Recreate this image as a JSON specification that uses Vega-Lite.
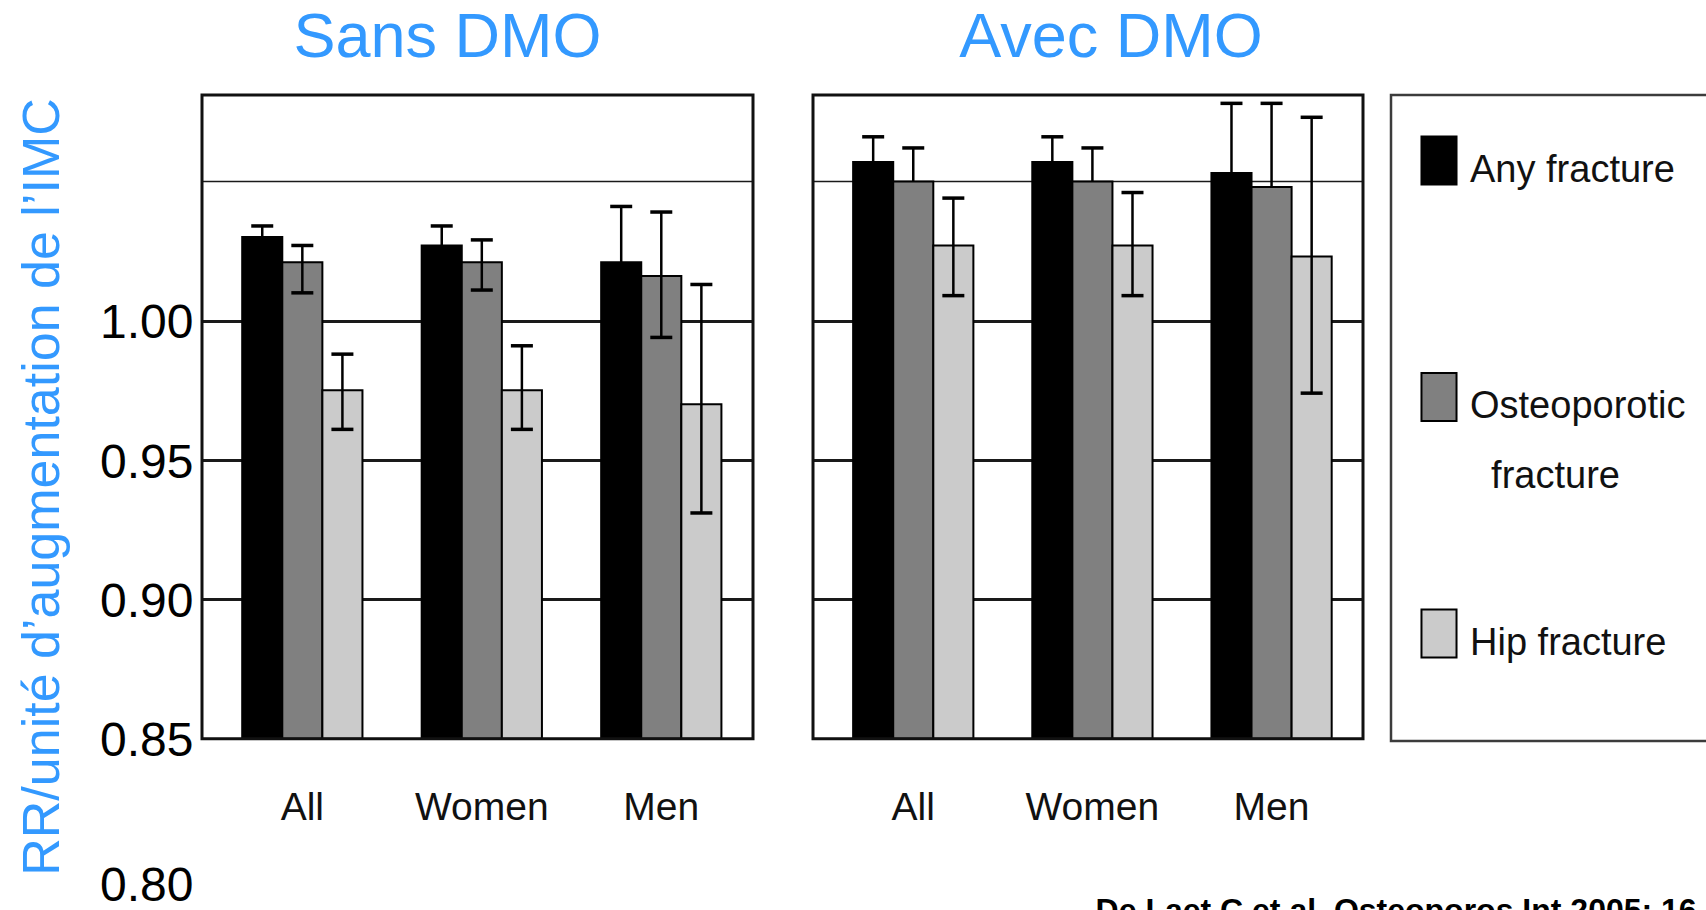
{
  "$schema": "https://vega.github.io/schema/vega-lite/v6.json",
  "background": "white",
  "padding": {"left": 16, "top": 6, "right": 0, "bottom": 0},
  "datasets": {
    "rr": [
      {"panel": "Sans DMO", "group": "All", "series": "Any fracture", "rr": 1.030, "lo": 1.026, "hi": 1.034},
      {"panel": "Sans DMO", "group": "All", "series": "Osteoporotic fracture", "rr": 1.021, "lo": 1.010, "hi": 1.027},
      {"panel": "Sans DMO", "group": "All", "series": "Hip fracture", "rr": 0.975, "lo": 0.961, "hi": 0.988},
      {"panel": "Sans DMO", "group": "Women", "series": "Any fracture", "rr": 1.027, "lo": 1.020, "hi": 1.034},
      {"panel": "Sans DMO", "group": "Women", "series": "Osteoporotic fracture", "rr": 1.021, "lo": 1.011, "hi": 1.029},
      {"panel": "Sans DMO", "group": "Women", "series": "Hip fracture", "rr": 0.975, "lo": 0.961, "hi": 0.991},
      {"panel": "Sans DMO", "group": "Men", "series": "Any fracture", "rr": 1.021, "lo": 1.001, "hi": 1.041},
      {"panel": "Sans DMO", "group": "Men", "series": "Osteoporotic fracture", "rr": 1.016, "lo": 0.994, "hi": 1.039},
      {"panel": "Sans DMO", "group": "Men", "series": "Hip fracture", "rr": 0.970, "lo": 0.931, "hi": 1.013},
      {"panel": "Avec DMO", "group": "All", "series": "Any fracture", "rr": 1.057, "lo": 1.048, "hi": 1.066},
      {"panel": "Avec DMO", "group": "All", "series": "Osteoporotic fracture", "rr": 1.050, "lo": 1.050, "hi": 1.062},
      {"panel": "Avec DMO", "group": "All", "series": "Hip fracture", "rr": 1.027, "lo": 1.009, "hi": 1.044},
      {"panel": "Avec DMO", "group": "Women", "series": "Any fracture", "rr": 1.057, "lo": 1.048, "hi": 1.066},
      {"panel": "Avec DMO", "group": "Women", "series": "Osteoporotic fracture", "rr": 1.050, "lo": 1.050, "hi": 1.062},
      {"panel": "Avec DMO", "group": "Women", "series": "Hip fracture", "rr": 1.027, "lo": 1.009, "hi": 1.046},
      {"panel": "Avec DMO", "group": "Men", "series": "Any fracture", "rr": 1.053, "lo": 1.028, "hi": 1.078},
      {"panel": "Avec DMO", "group": "Men", "series": "Osteoporotic fracture", "rr": 1.048, "lo": 1.048, "hi": 1.078},
      {"panel": "Avec DMO", "group": "Men", "series": "Hip fracture", "rr": 1.023, "lo": 0.974, "hi": 1.073}
    ],
    "legend": [
      {"series": "Any fracture", "label": "Any fracture"},
      {"series": "Osteoporotic fracture", "label": "Osteoporotic\n\u200b\u00a0\u00a0fracture"},
      {"series": "Hip fracture", "label": "Hip fracture"}
    ]
  },
  "title": {
    "text": "De Laet C et al. Osteoporos Int 2005; 16",
    "orient": "bottom",
    "anchor": "start",
    "font": "Liberation Sans",
    "fontSize": 32,
    "fontWeight": "bold",
    "color": "#000000",
    "dx": 1079,
    "offset": -14
  },
  "spacing": 56,
  "hconcat": [
    {
      "width": 551,
      "height": 783,
      "title": {"text": "Sans DMO", "dx": -30, "offset": 24},
      "layer": [
        {
          "data": {"name": "rr"},
          "transform": [{"filter": "datum.panel === 'Sans DMO'"}],
          "encoding": {
            "x": {
              "field": "group", "type": "nominal",
              "scale": {"domain": ["All", "Women", "Men"], "paddingInner": 0.33, "paddingOuter": 0.2, "align": 0.56},
              "axis": {"title": null, "orient": "bottom", "offset": -139, "domain": false, "ticks": false, "labelAngle": 0, "labelPadding": 49, "labelFont": "Liberation Sans", "labelFontSize": 39, "labelColor": "#111111"}
            },
            "xOffset": {
              "field": "series", "type": "nominal",
              "scale": {"domain": ["Any fracture", "Osteoporotic fracture", "Hip fracture"], "paddingInner": 0, "paddingOuter": 0}
            }
          },
          "layer": [
            {
              "mark": {"type": "bar", "stroke": "#000000", "strokeWidth": 2},
              "encoding": {
                "y": {
                  "field": "rr", "type": "quantitative",
                  "scale": {"domain": [0.8, 1.081], "nice": false, "zero": false},
                  "axis": {
                    "values": [0.8, 0.85, 0.9, 0.95, 1.0, 1.05],
                    "labelExpr": "datum.value > 1.04 ? '' : format(datum.value, '.2f')",
                    "labelFlush": false, "labelOverlap": false,
                    "labelOffset": {"condition": {"test": "datum.value < 0.81", "value": 8}, "value": 3},
                    "domain": false, "ticks": false,
                    "grid": true, "gridColor": "#1a1a1a",
                    "gridOpacity": {"condition": {"test": "datum.value < 0.875", "value": 0}, "value": 1},
                    "gridWidth": {"condition": {"test": "datum.value > 1.04", "value": 1.5}, "value": 3},
                    "labelFont": "Liberation Sans", "labelFontSize": 48, "labelColor": "#000000", "labelPadding": 9,
                    "title": "RR/unité d’augmentation de l’IMC",
                    "titleFont": "Liberation Sans", "titleFontSize": 52, "titleFontWeight": "normal", "titleColor": "#3399ff", "titlePadding": 30
                  }
                },
                "y2": {"datum": 0.85},
                "color": {
                  "field": "series", "type": "nominal",
                  "scale": {"domain": ["Any fracture", "Osteoporotic fracture", "Hip fracture"], "range": ["#000000", "#808080", "#cbcbcb"]},
                  "legend": null
                }
              }
            },
            {
              "mark": {"type": "rule", "color": "#000000", "strokeWidth": 2.5},
              "encoding": {
                "y": {"field": "lo", "type": "quantitative", "scale": {"domain": [0.8, 1.081], "nice": false, "zero": false}},
                "y2": {"field": "hi"}
              }
            },
            {
              "mark": {"type": "point", "shape": "M-1,0L1,0", "size": 484, "filled": false, "stroke": "#000000", "strokeWidth": 3.5, "opacity": 1},
              "encoding": {
                "y": {"field": "hi", "type": "quantitative", "scale": {"domain": [0.8, 1.081], "nice": false, "zero": false}}
              }
            },
            {
              "transform": [{"filter": "datum.lo < datum.rr"}],
              "mark": {"type": "point", "shape": "M-1,0L1,0", "size": 484, "filled": false, "stroke": "#000000", "strokeWidth": 3.5, "opacity": 1},
              "encoding": {
                "y": {"field": "lo", "type": "quantitative", "scale": {"domain": [0.8, 1.081], "nice": false, "zero": false}}
              }
            }
          ]
        },
        {
          "data": {"values": [{"edge": "frame"}]},
          "mark": {"type": "rect", "filled": false, "stroke": "#111111", "strokeWidth": 3},
          "encoding": {
            "y": {"datum": 0.85, "type": "quantitative", "scale": {"domain": [0.8, 1.081], "nice": false, "zero": false}},
            "y2": {"datum": 1.081}
          }
        }
      ]
    },
    {
      "hconcat": [
        {
          "width": 550,
          "height": 783,
          "title": {"text": "Avec DMO", "dx": 23, "offset": 24},
          "layer": [
            {
              "data": {"name": "rr"},
              "transform": [{"filter": "datum.panel === 'Avec DMO'"}],
              "encoding": {
                "x": {
                  "field": "group", "type": "nominal",
                  "scale": {"domain": ["All", "Women", "Men"], "paddingInner": 0.33, "paddingOuter": 0.2, "align": 0.56},
                  "axis": {"title": null, "orient": "bottom", "offset": -139, "domain": false, "ticks": false, "labelAngle": 0, "labelPadding": 49, "labelFont": "Liberation Sans", "labelFontSize": 39, "labelColor": "#111111"}
                },
                "xOffset": {
                  "field": "series", "type": "nominal",
                  "scale": {"domain": ["Any fracture", "Osteoporotic fracture", "Hip fracture"], "paddingInner": 0, "paddingOuter": 0}
                }
              },
              "layer": [
                {
                  "mark": {"type": "bar", "stroke": "#000000", "strokeWidth": 2},
                  "encoding": {
                    "y": {
                      "field": "rr", "type": "quantitative",
                      "scale": {"domain": [0.8, 1.081], "nice": false, "zero": false},
                      "axis": {
                        "values": [0.9, 0.95, 1.0, 1.05],
                        "labels": false, "domain": false, "ticks": false, "title": null,
                        "grid": true, "gridColor": "#1a1a1a",
                        "gridWidth": {"condition": {"test": "datum.value > 1.04", "value": 1.5}, "value": 3}
                      }
                    },
                    "y2": {"datum": 0.85},
                    "color": {
                      "field": "series", "type": "nominal",
                      "scale": {"domain": ["Any fracture", "Osteoporotic fracture", "Hip fracture"], "range": ["#000000", "#808080", "#cbcbcb"]},
                      "legend": null
                    }
                  }
                },
                {
                  "mark": {"type": "rule", "color": "#000000", "strokeWidth": 2.5},
                  "encoding": {
                    "y": {"field": "lo", "type": "quantitative", "scale": {"domain": [0.8, 1.081], "nice": false, "zero": false}},
                    "y2": {"field": "hi"}
                  }
                },
                {
                  "mark": {"type": "point", "shape": "M-1,0L1,0", "size": 484, "filled": false, "stroke": "#000000", "strokeWidth": 3.5, "opacity": 1},
                  "encoding": {
                    "y": {"field": "hi", "type": "quantitative", "scale": {"domain": [0.8, 1.081], "nice": false, "zero": false}}
                  }
                },
                {
                  "transform": [{"filter": "datum.lo < datum.rr"}],
                  "mark": {"type": "point", "shape": "M-1,0L1,0", "size": 484, "filled": false, "stroke": "#000000", "strokeWidth": 3.5, "opacity": 1},
                  "encoding": {
                    "y": {"field": "lo", "type": "quantitative", "scale": {"domain": [0.8, 1.081], "nice": false, "zero": false}}
                  }
                }
              ]
            },
            {
              "data": {"values": [{"edge": "frame"}]},
              "mark": {"type": "rect", "filled": false, "stroke": "#111111", "strokeWidth": 3},
              "encoding": {
                "y": {"datum": 0.85, "type": "quantitative", "scale": {"domain": [0.8, 1.081], "nice": false, "zero": false}},
                "y2": {"datum": 1.081}
              }
            }
          ]
        },
        {
          "width": 320,
          "height": 646,
          "view": {"stroke": "#3c3c3c", "strokeWidth": 2.5},
          "data": {"name": "legend"},
          "encoding": {
            "y": {
              "field": "series", "type": "nominal",
              "scale": {"type": "point", "domain": ["Any fracture", "Osteoporotic fracture", "Hip fracture"], "padding": 0.366, "align": 0.379},
              "axis": null
            }
          },
          "layer": [
            {
              "mark": {"type": "point", "shape": "M-0.73,-1H0.73V1H-0.73Z", "size": 2304, "filled": true, "opacity": 1, "stroke": "#000000", "strokeWidth": 2, "xOffset": -112},
              "encoding": {
                "color": {
                  "field": "series", "type": "nominal",
                  "scale": {"domain": ["Any fracture", "Osteoporotic fracture", "Hip fracture"], "range": ["#000000", "#808080", "#cbcbcb"]},
                  "legend": null
                }
              }
            },
            {
              "mark": {"type": "text", "align": "left", "baseline": "alphabetic", "dx": -81, "dy": 21, "lineBreak": "\n", "lineHeight": 70, "font": "Liberation Sans", "fontSize": 38, "color": "#111111"},
              "encoding": {"text": {"field": "label"}}
            }
          ]
        }
      ],
      "spacing": 28,
      "bounds": "flush"
    }
  ],
  "config": {
    "view": {"stroke": null},
    "font": "Liberation Sans",
    "title": {"font": "Liberation Sans", "fontSize": 63, "fontWeight": "normal", "color": "#3399ff", "anchor": "middle"}
  }
}
